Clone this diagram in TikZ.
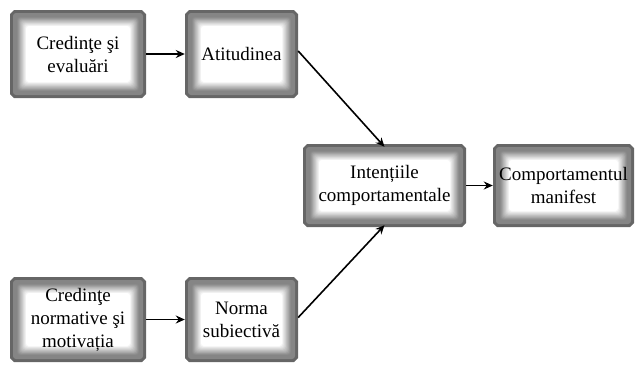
\documentclass[tikz,border=0pt]{standalone}
\usepackage{fontspec}
\setmainfont{Liberation Serif}
\usetikzlibrary{arrows.meta}

\begin{document}
\begin{tikzpicture}[x=1pt,y=-1pt,
  % grey chamfered frame whose inner edge fades softly into a white panel
  frame/.style={rectangle, inner sep=0pt, align=center,
    font=\fontsize{19}{23}\selectfont,
    path picture={
      \coordinate (sw) at (path picture bounding box.south west);
      \coordinate (ne) at (path picture bounding box.north east);
      \coordinate (se) at (sw -| ne);
      \coordinate (nw) at (ne -| sw);
      \fill[black!60] ([xshift=4pt]sw) -- ([xshift=-4pt]se) -- ([yshift=4pt]se)
        -- ([yshift=-4pt]ne) -- ([xshift=-4pt]ne) -- ([xshift=4pt]nw)
        -- ([yshift=-4pt]nw) -- ([yshift=4pt]sw) -- cycle;
      \fill[black!48, rounded corners=3pt]
        ([xshift=3pt,yshift=3pt]sw) rectangle ([xshift=-3pt,yshift=-3pt]ne);
      \foreach \k in {0,...,12}{
        \pgfmathsetmacro\ins{7+0.75*\k}
        \pgfmathsetmacro\sh{46-46*\k/12}
        \fill[black!\sh, rounded corners=3pt]
          ([xshift=\ins pt,yshift=\ins pt]sw) rectangle ([xshift=-\ins pt,yshift=-\ins pt]ne);
      }
    }},
  link/.style={-{Stealth[length=9pt,width=8pt]}, line width=1.6pt}]

\useasboundingbox (0,0) rectangle (638,365);

\node[frame, minimum width=136pt, minimum height=88pt] (cred) at (78,54) {Credinţe şi\\evaluări};
\node[frame, minimum width=113pt, minimum height=88pt] (atit) at (241.5,54) {Atitudinea};
\node[frame, minimum width=163pt, minimum height=83pt] (intent) at (384.5,185.5) {Intențiile\\comportamentale};
\node[frame, minimum width=141pt, minimum height=83pt] (manif) at (563.5,185.5) {Comportamentul\\manifest};
\node[frame, minimum width=136pt, minimum height=85pt] (norm) at (78,319.5) {Credinţe\\normative şi\\motivația};
\node[frame, minimum width=113pt, minimum height=85pt] (subj) at (241.5,319.5) {Norma\\subiectivă};

\draw[link] (cred.east) -- (atit.west);
\draw[link] ([yshift=3pt]atit.east) -- ([yshift=-3pt]intent.north);
\draw[link] (norm.east) -- (subj.west);
\draw[link] ([yshift=2pt]subj.east) -- ([yshift=2pt]intent.south);
\draw[link] (intent.east) -- (manif.west);

\end{tikzpicture}
\end{document}
